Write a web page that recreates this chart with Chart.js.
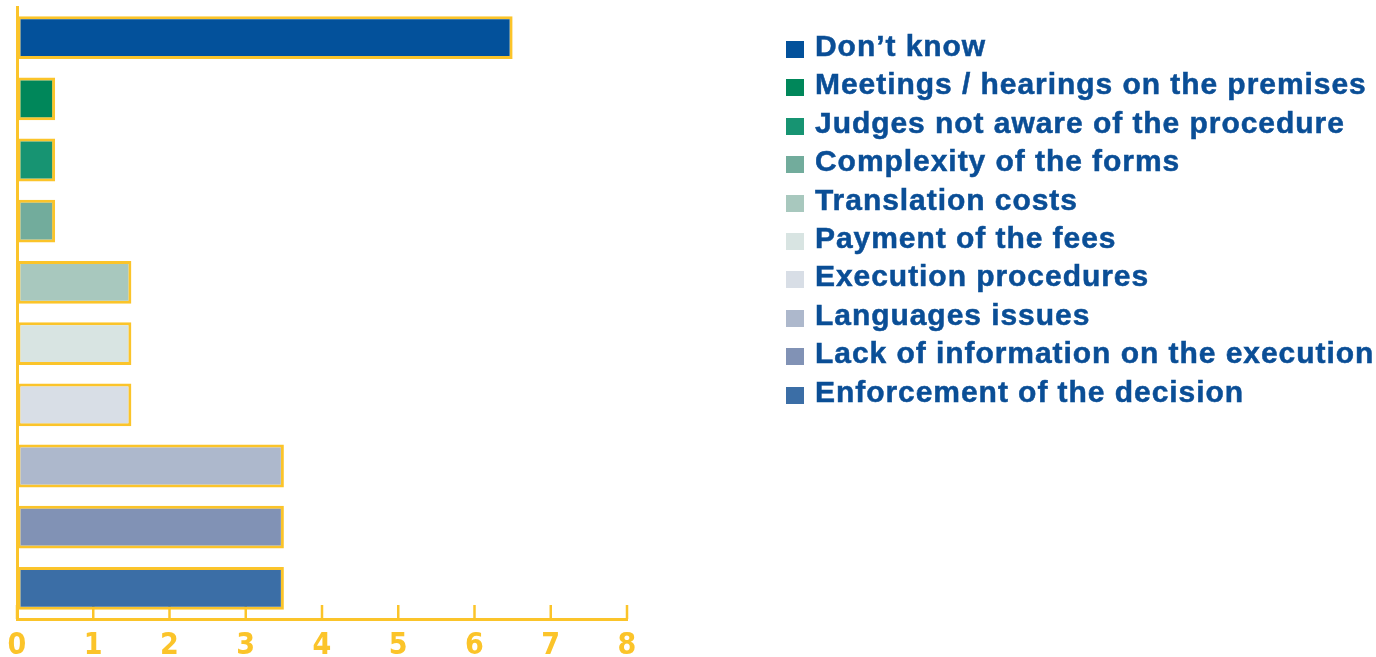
<!DOCTYPE html>
<html>
<head>
<meta charset="utf-8">
<script src="https://cdn.jsdelivr.net/npm/chart.js@4/dist/chart.umd.min.js"></script>
<style>
  html, body { margin: 0; padding: 0; background: #ffffff; }
  #wrap { position: relative; width: 1376px; height: 657px; overflow: hidden; }
  #chart { position: absolute; left: 0; top: 0; }
  #legend { position: absolute; left: 786px; top: 27px; margin: 0; padding: 0; list-style: none;
            font-family: "Liberation Sans", Arial, Helvetica, sans-serif; font-weight: bold;
            font-size: 30px; line-height: 38.4px; color: #0A4E96; letter-spacing: 0.95px; white-space: nowrap;
            -webkit-text-stroke: 0.5px #0A4E96; }
  #legend li { margin: 0; padding: 0; }
  #legend .box { display: inline-block; width: 18px; height: 17px; margin-right: 11px; vertical-align: -2px; }
</style>
</head>
<body>
<div id="wrap">
  <canvas id="chart" width="1376" height="657"></canvas>
  <ul id="legend"></ul>
</div>
<script>
const categories = [
  "Don\u2019t know",
  "Meetings / hearings on the premises",
  "Judges not aware of the procedure",
  "Complexity of the forms",
  "Translation costs",
  "Payment of the fees",
  "Execution procedures",
  "Languages issues",
  "Lack of information on the execution",
  "Enforcement of the decision"
];
const values = [6.5, 0.5, 0.5, 0.5, 1.5, 1.5, 1.5, 3.5, 3.5, 3.5];
const barColors = ["#03519B", "#00875A", "#179472", "#72AC9C", "#A8C8BE", "#D8E4E2", "#D8DEE6", "#ADB8CC", "#8192B5", "#3B6EA6"];
const xTicks = [0, 1, 2, 3, 4, 5, 6, 7, 8];

const yellow = "#FBC42A";

// HTML legend built from the arrays
const legendEl = document.getElementById("legend");
categories.forEach((c, i) => {
  const li = document.createElement("li");
  const box = document.createElement("span");
  box.className = "box";
  box.style.background = barColors[i];
  li.appendChild(box);
  li.appendChild(document.createTextNode(c));
  legendEl.appendChild(li);
});

const innerTicks = {
  id: "innerTicks",
  beforeDatasetsDraw(chart) {
    const xs = chart.scales.x;
    const ctx = chart.ctx;
    const bottom = chart.chartArea.bottom;
    ctx.save();
    ctx.strokeStyle = yellow;
    ctx.lineWidth = 2.5;
    xs.ticks.forEach(t => {
      const px = xs.getPixelForValue(t.value);
      ctx.beginPath();
      ctx.moveTo(px, bottom);
      ctx.lineTo(px, bottom - 14);
      ctx.stroke();
    });
    ctx.restore();
  }
};

new Chart(document.getElementById("chart"), {
  type: "bar",
  data: {
    labels: categories,
    datasets: [{
      data: values,
      backgroundColor: barColors,
      borderColor: yellow,
      borderWidth: 3,
      borderSkipped: false,
      barPercentage: 0.7,
      categoryPercentage: 1.0
    }]
  },
  options: {
    indexAxis: "y",
    responsive: false,
    animation: false,
    layout: { padding: { left: 17, right: 749, top: 7, bottom: 0 } },
    plugins: { legend: { display: false }, tooltip: { enabled: false } },
    scales: {
      x: {
        min: 0, max: 8,
        afterBuildTicks(scale) { scale.ticks = xTicks.map(v => ({ value: v })); },
        afterFit(scale) { scale.height = 38; scale.paddingLeft = 0; scale.paddingRight = 0; },
        grid: { display: true, drawOnChartArea: false, drawTicks: false },
        border: { display: true, color: yellow, width: 3 },
        ticks: {
          color: yellow,
          padding: 12,
          font: { family: "'Liberation Sans Narrow', 'DejaVu Sans Condensed', sans-serif", weight: "bold", size: 30, lineHeight: 1 },
          callback: (v) => String(v)
        }
      },
      y: {
        afterFit(scale) { scale.width = 0; },
        grid: { display: false, drawTicks: false },
        border: { display: true, color: yellow, width: 3 },
        ticks: { display: false }
      }
    }
  },
  plugins: [innerTicks]
});
</script>
</body>
</html>
